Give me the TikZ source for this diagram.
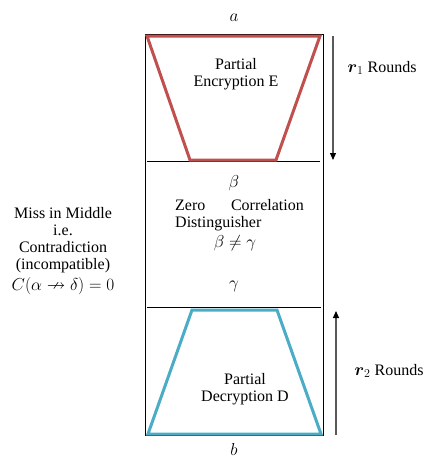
\documentclass[tikz,border=0pt]{standalone}
\usepackage{amsmath,amssymb}
\usepackage{fontspec}
\setmainfont{Liberation Serif}
\usetikzlibrary{arrows.meta}
\definecolor{encred}{HTML}{C0504D}
\definecolor{decblue}{HTML}{4BACC6}
\tikzset{
  txt/.style={font=\fontsize{16}{17}\selectfont, inner sep=0pt, align=center},
  mtxt/.style={font=\fontsize{18.5}{20}\selectfont, inner sep=0pt, align=center},
  frame/.style={draw=black, line width=0.9pt},
  sep/.style={draw=black, line width=0.8pt},
  trap/.style={line width=3pt, line join=miter},
  roundarrow/.style={draw=black!65, line width=1.1pt, -{Triangle[black,length=7pt,width=6pt]}}
}
\begin{document}
\begin{tikzpicture}[x=1pt,y=-1pt]
\useasboundingbox (0,0) rectangle (425,459);
% main frame
\draw[frame] (145,34) rectangle (323,435);
% separators
\coordinate (s1l) at (147,161); \coordinate (s1r) at (320,161);
\coordinate (s2l) at (147,307); \coordinate (s2r) at (321,307);
\draw[sep] (s1l) -- (s1r);
\draw[sep] (s2l) -- (s2r);
% trapezoids
\draw[trap, draw=encred] (147,36) -- (320,36) -- (276,160) -- (190,160) -- cycle;
\draw[trap, draw=decblue] (192,310) -- (277,310) -- (321,434) -- (148,434) -- cycle;
% arrows
\coordinate (a1s) at (333,36); \coordinate (a1e) at (333,160);
\coordinate (a2s) at (336,435); \coordinate (a2e) at (336,311);
\draw[roundarrow] (a1s) -- (a1e);
\draw[roundarrow] (a2s) -- (a2e);
% labels
\node[mtxt] (a) at (234,18) {$a$};
\node[mtxt] (b) at (234,449) {$b$};
\node[txt] (enc) at (236,74) {Partial\\Encryption E};
\node[txt] (dec) at (245,389) {Partial\\Decryption D};
\node[txt] (r1) at (382,68) {{\fontsize{18}{19}\selectfont$\boldsymbol{r}_{1}$} Rounds};
\node[txt] (r2) at (389,371) {{\fontsize{18}{19}\selectfont$\boldsymbol{r}_{2}$} Rounds};
\node[mtxt] (beta) at (234,183) {$\beta$};
\node[txt, align=left, anchor=west] (zc) at (175,215) {Zero\hspace{1.6em}Correlation\\Distinguisher};
\node[mtxt] (neq) at (235,243) {$\beta \neq \gamma$};
\node[mtxt] (gamma) at (234,286) {$\gamma$};
\node[txt] (miss) at (63,240) {Miss in Middle\\i.e.\\Contradiction\\(incompatible)};
\node[mtxt] (c) at (63,286) {$C(\alpha \nrightarrow \delta) = 0$};
\end{tikzpicture}
\end{document}
